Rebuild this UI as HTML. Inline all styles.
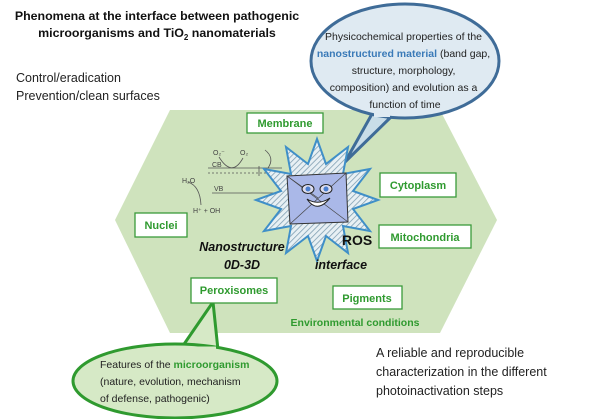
<!DOCTYPE html>
<html><head><meta charset="utf-8"><style>
body{margin:0;background:#fff;}
svg{display:block}
text{font-family:"Liberation Sans",sans-serif;}
</style></head><body>
<svg width="600" height="419" viewBox="0 0 600 419" xmlns="http://www.w3.org/2000/svg">
<defs>
<pattern id="h" width="4" height="4" patternUnits="userSpaceOnUse" patternTransform="rotate(45)">
<rect width="4" height="4" fill="#e8f0f4"/><line x1="0" y1="0" x2="0" y2="4" stroke="#7a9aae" stroke-width="1.5"/></pattern>
</defs>
<polygon points="170,110 440,110 497,220 440,333 170,333 115,220" fill="#cfe3bd"/>
<!-- blue bubble -->
<path d="M372,114 L345,162 L392,116 Z" fill="#c9dde8" stroke="#3f6c98" stroke-width="3" stroke-linejoin="round"/>
<ellipse cx="405" cy="61" rx="94" ry="57" fill="#dfeaf2" stroke="#3f6c98" stroke-width="3"/>
<path d="M374,115 L390,115" stroke="#dfeaf2" stroke-width="4"/>
<text font-size="10.5" fill="#222" text-anchor="middle">
<tspan x="405" y="40">Physicochemical properties of the</tspan>
<tspan x="405" y="57"><tspan fill="#3a7ab8" font-weight="bold">nanostructured material</tspan> (band gap,</tspan>
<tspan x="405" y="74">structure, morphology,</tspan>
<tspan x="405" y="91">composition) and evolution as a</tspan>
<tspan x="405" y="108">function of time</tspan></text>
<!-- green bubble -->
<path d="M180,350 L213,302 L218,350 Z" fill="#d6e9c6" stroke="#2f9a2f" stroke-width="3" stroke-linejoin="round"/>
<ellipse cx="175" cy="381" rx="102" ry="37" fill="#d6e9c6" stroke="#2f9a2f" stroke-width="3"/>
<path d="M183,349 L216,349" stroke="#d6e9c6" stroke-width="5"/>
<text font-size="10.5" fill="#222"><tspan x="100" y="368">Features of the <tspan fill="#2f9a2f" font-weight="bold">microorganism</tspan></tspan>
<tspan x="100" y="385">(nature, evolution, mechanism</tspan><tspan x="100" y="402">of defense, pathogenic)</tspan></text>
<!-- title -->
<text font-size="12.4" font-weight="bold" fill="#111" text-anchor="middle"><tspan x="157" y="20">Phenomena at the interface between pathogenic</tspan><tspan x="157" y="37">microorganisms and TiO<tspan font-size="8" dy="3">2</tspan><tspan dy="-3"> nanomaterials</tspan></tspan></text>
<text font-size="12.5" fill="#222"><tspan x="16" y="82">Control/eradication</tspan><tspan x="16" y="100">Prevention/clean surfaces</tspan></text>
<text font-size="12.5" fill="#222"><tspan x="376" y="357">A reliable and reproducible</tspan><tspan x="376" y="376">characterization in the different</tspan><tspan x="376" y="395">photoinactivation steps</tspan></text>
<!-- boxes -->
<g fill="#fff" stroke="#3a9a3a" stroke-width="1.3">
<rect x="247" y="113" width="76" height="20"/><rect x="380" y="173" width="76" height="24"/>
<rect x="379" y="225" width="92" height="23"/><rect x="135" y="213" width="52" height="24"/>
<rect x="191" y="278" width="86" height="25"/><rect x="333" y="286" width="69" height="23"/></g>
<g font-size="11" font-weight="bold" fill="#2f9a2f" text-anchor="middle">
<text x="285" y="127">Membrane</text><text x="418" y="189">Cytoplasm</text>
<text x="425" y="241">Mitochondria</text><text x="161" y="229">Nuclei</text>
<text x="234" y="294">Peroxisomes</text><text x="367" y="302">Pigments</text>
<text x="355" y="326" font-size="10.5">Environmental conditions</text></g>
<!-- band diagram -->
<g stroke="#555" stroke-width="0.8" fill="none">
<line x1="208" y1="168" x2="282" y2="168"/><line x1="208" y1="173" x2="282" y2="173" stroke-dasharray="2,2"/>
<line x1="212" y1="193" x2="282" y2="193"/>
<path d="M219,157 Q232,178 243,158"/><path d="M188,182 Q200,186 201,205"/>
<path d="M265,150 Q275,158 268,168"/><line x1="259" y1="176" x2="259" y2="166"/></g>
<g font-family="Liberation Serif" font-size="7" fill="#444"><text x="213" y="155">O₂⁻</text><text x="240" y="155">O₂</text>
<text x="212" y="167">CB</text><text x="182" y="183">H₂O</text><text x="214" y="191">VB</text><text x="193" y="213">H⁺ + OH</text></g>
<!-- star -->
<polygon points="378,200 353,191 370,169 343,174 348,147 326,164 317,139 308,164 286,147 291,174 264,169 281,191 256,200 281,209 264,231 291,226 286,253 308,236 317,261 326,236 348,253 343,226 370,231 353,209" fill="url(#h)" stroke="#3f8fc8" stroke-width="2"/>
<polygon points="287,176 346,173 348,222 290,224" fill="#aab8e8" stroke="#333" stroke-width="1"/>
<g stroke="#444" stroke-width="0.7"><line x1="287" y1="176" x2="348" y2="222"/><line x1="346" y1="173" x2="290" y2="224"/><line x1="287" y1="176" x2="318" y2="198"/></g>
<ellipse cx="308" cy="189" rx="6" ry="4.5" fill="#dde" stroke="#222"/><circle cx="308" cy="189" r="2.5" fill="#4a7fd0"/>
<ellipse cx="326" cy="189" rx="6" ry="4.5" fill="#dde" stroke="#222"/><circle cx="326" cy="189" r="2.5" fill="#4a7fd0"/>
<path d="M307,199 Q317,214 330,198 Q318,206 307,199 Z" fill="#fff" stroke="#222"/>
<g font-weight="bold" fill="#111" font-size="12.5">
<text x="242" y="251" text-anchor="middle" font-style="italic">Nanostructure</text>
<text x="242" y="269" text-anchor="middle" font-style="italic">0D-3D</text>
<text x="357" y="245" text-anchor="middle" font-size="14">ROS</text>
<text x="341" y="269" text-anchor="middle" font-style="italic">interface</text></g>
</svg>
</body></html>
